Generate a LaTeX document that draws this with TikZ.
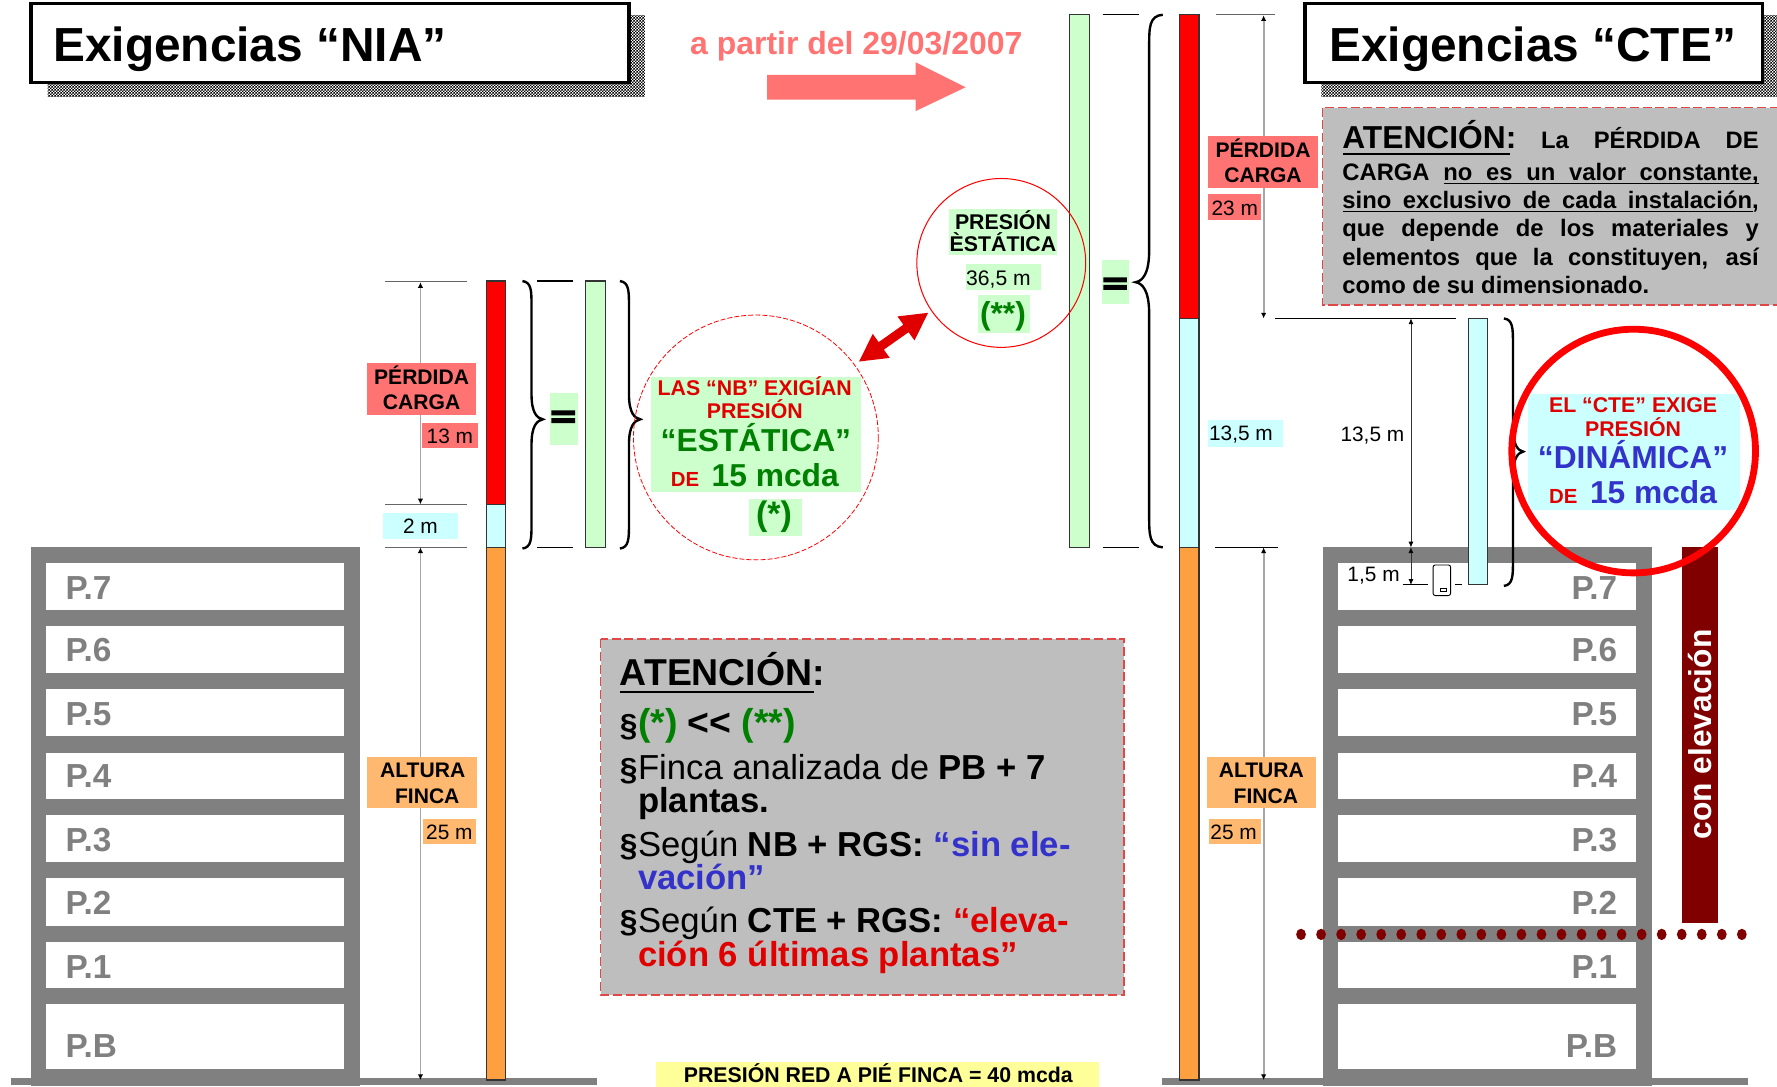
\documentclass[tikz,border=0pt]{standalone}
\usepackage{fontspec}
\usepackage{graphicx}
\setmainfont{Liberation Sans}
\newfontfamily\eqfont[FakeBold=9]{Liberation Sans}
\usetikzlibrary{arrows.meta,patterns}
\pgfdeclarepatternformonly{finechk}{\pgfqpoint{0pt}{0pt}}{\pgfqpoint{1.5pt}{1.5pt}}{\pgfqpoint{1.5pt}{1.5pt}}{%
  \pgfpathrectangle{\pgfqpoint{0pt}{0pt}}{\pgfqpoint{0.75pt}{0.75pt}}%
  \pgfpathrectangle{\pgfqpoint{0.75pt}{0.75pt}}{\pgfqpoint{0.75pt}{0.75pt}}%
  \pgfusepath{fill}}
\definecolor{cpink}{HTML}{FF7373}
\definecolor{ccyan}{HTML}{CCFFFF}
\definecolor{cgreen}{HTML}{CCFFCC}
\definecolor{corange}{HTML}{FFA040}
\definecolor{clabor}{HTML}{FFB870}
\definecolor{tred}{HTML}{E00000}
\definecolor{tgreen}{HTML}{008000}
\definecolor{tblue}{HTML}{3333CC}
\definecolor{cgrey}{HTML}{BEBEBE}
\definecolor{cdash}{HTML}{E04848}
\definecolor{cdark}{HTML}{800000}
\definecolor{cwall}{HTML}{808080}
\definecolor{cyell}{HTML}{FFFF99}
\newcommand\fz[1]{\fontsize{#1}{#1}\selectfont}
\newcommand\bb{\bfseries}
% brace: end x, middle x, tip x, top y, tip y, bottom y, bend
\newcommand\mybrace[7]{\draw[bracepen] (#1,#4) .. controls (#2,{#4+1}) and (#2,{#4+#7*0.4}) .. (#2,{#4+#7}) -- (#2,{#5-#7}) .. controls (#2,{#5-#7*0.25}) and ({(#2+#3)/2},{#5-1}) .. (#3,#5) .. controls ({(#2+#3)/2},{#5+1}) and (#2,{#5+#7*0.25}) .. (#2,{#5+#7}) -- (#2,{#6-#7}) .. controls (#2,{#6-#7*0.4}) and (#2,{#6-1}) .. (#1,#6);}
\tikzset{
  txt/.style={inner sep=0pt,outer sep=0pt,anchor=base west,text=black},
  ctr/.style={inner sep=0pt,outer sep=0pt,anchor=base,text=black},
  barseg/.style={draw=black!80,line width=0.5pt},
  dimline/.style={draw=black!60,line width=0.5pt},
  dimarrow/.style={draw=black!35,line width=0.8pt,{Latex[black,length=2.5pt,width=2.4pt]}-{Latex[black,length=2.5pt,width=2.4pt]}},
  thinarrow/.style={draw=black!80,line width=0.35pt,{Latex[black,length=2.5pt,width=2.2pt]}-{Latex[black,length=2.5pt,width=2.2pt]}},
  bracepen/.style={draw=black,line width=1.05pt},
  notebox/.style={fill=cgrey,draw=cdash,line width=0.7pt,dash pattern=on 4pt off 1.6pt},
  titlebox/.style={fill=white,draw=black,line width=1.5pt},
  shade/.style={pattern=finechk,pattern color=black},
  ul/.style={draw=black,line width=0.8pt},
  floorlab/.style={inner sep=0pt,outer sep=0pt,text=cwall,font=\fz{14.7}\bb}
}
\newcommand\eqsign{\scalebox{1}[0.75]{\eqfont\fz{18}=}}
\begin{document}
\begin{tikzpicture}[x=0.5pt,y=-0.5pt]
\useasboundingbox (0,0) rectangle (1568,959);
% title boxes
\fill[shade] (42,14) rectangle (569,85);
\fill[shade] (1166,14) rectangle (1568,85);
\draw[titlebox] (27.5,3) rectangle (555,73);
\draw[titlebox] (1151.5,3) rectangle (1555,73);
\node[txt,font=\fz{21.1}\bb] (tnia) at (47,54) {Exigencias “NIA”};
\node[txt,font=\fz{21.1}\bb] (tcte) at (1173,54) {Exigencias “CTE”};
% date
\node[txt,text=cpink,font=\fz{14.1}\bb] (date) at (609,48) {a partir del 29/03/2007};
\fill[cpink] (677,66) -- (808,66) -- (808,55) -- (852,77) -- (808,98) -- (808,88) -- (677,88) -- cycle;
% ground
\fill[cwall] (10,951) rectangle (527,957);
\fill[cwall] (1025,951) rectangle (1542,957);
% buildings
\foreach \bx/\rx in {27/41,1167/1181}{
  \fill[cwall] (\bx,483) rectangle ({\bx+291},958);
  \foreach \a/\b in {497/538,552/594,608/649,664/705,719/761,775/817,831/872,886/943}
    \fill[white] (\rx,\a) rectangle ({\rx+262.5},\b);
}
\foreach \n/\y in {7/529,6/584,5/640,4/695,3/751,2/807,1/863,B/933}{
  \node[floorlab,anchor=base west] (fl\n) at (58,\y) {P.\n};
  \node[floorlab,anchor=base east] (fr\n) at (1427,\y) {P.\n};
}
% dark red riser
\fill[cdark] (1484,483) rectangle (1516,814);
\node[inner sep=0pt,text=white,font=\fz{14}\bb,rotate=90] (conelev) at (1500,648) {con elevación};
% left bar
\filldraw[barseg,fill=red] (429,248) rectangle (446,445);
\filldraw[barseg,fill=ccyan] (429,445) rectangle (446,483);
\filldraw[barseg,fill=corange] (429,483) rectangle (446,953);
\draw[dimline] (340,248.5) -- (412,248.5);
\draw[dimline] (340,445) -- (412,445);
\draw[dimline] (340,483) -- (412,483);
\coordinate (la) at (371,249); \coordinate (lb) at (371,445);
\coordinate (lc) at (371,483); \coordinate (ld) at (371,953);
\draw[dimarrow] (la) -- (lb);
\draw[dimarrow] (lc) -- (ld);
\fill[cpink] (324,320) rectangle (420,366);
\node[ctr,font=\fz{9.3}\bb] (lp1) at (372,339) {PÉRDIDA};
\node[ctr,font=\fz{9.3}\bb] (lp2) at (372,361) {CARGA};
\fill[cpink] (372,373) rectangle (422,395);
\node[ctr,font=\fz{9.2}] (l13) at (397,391) {13 m};
\fill[ccyan] (338,453) rectangle (404,476);
\node[ctr,font=\fz{9.2}] (l2) at (371,471) {2 m};
\fill[clabor] (324,668) rectangle (421,713);
\node[ctr,font=\fz{9.3}\bb] (la1) at (373,686) {ALTURA};
\node[ctr,font=\fz{9.3}\bb] (la2) at (377,709) {FINCA};
\fill[clabor] (373,723) rectangle (420,745);
\node[ctr,font=\fz{9.2}] (l25) at (396.5,741) {25 m};
% left brace 1 and green bar
\mybrace{461}{469}{479}{248}{370}{484}{22}
\draw[dimline,draw=black] (474,248) -- (506,248);
\draw[dimline,draw=black] (474,483) -- (506,483);
\filldraw[barseg,fill=cgreen] (517,248) rectangle (534,483);
\fill[cgreen] (485,347) rectangle (510,393);
\node[inner sep=0pt] (eq1) at (497,370) {\eqsign};
\mybrace{547}{555}{565}{248}{370}{484}{22}
% static circle
\draw[red,line width=0.35pt,dash pattern=on 2.2pt off 0.9pt] (667,386) circle (108);
\fill[cgreen] (574,333) rectangle (760,434);
\node[ctr,text=tred,font=\fz{9.4}\bb] (s1) at (666,349) {LAS “NB” EXIGÍAN};
\node[ctr,text=tred,font=\fz{9.4}\bb] (s2) at (666,369) {PRESIÓN};
\node[ctr,text=tgreen,font=\fz{14}\bb] (s3) at (667,398) {“ESTÁTICA”};
\node[txt,text=tred,font=\fz{9}\bb] (s4) at (592,429) {DE};
\node[txt,text=tgreen,font=\fz{14}\bb] (s5) at (628,429) {15 mcda};
\fill[cgreen] (661,440) rectangle (708,473);
\node[ctr,text=tgreen,font=\fz{15}\bb] (s6) at (683,464) {(*)};
% double arrow
\fill[tred] (758,319) -- (770.1,294.6) -- (775.3,301.9) -- (797.1,286.5) -- (791.9,279.2) -- (819,276) -- (806.9,300.4) -- (801.7,293.1) -- (779.9,308.5) -- (785.1,315.8) -- cycle;
% middle green bar
\filldraw[barseg,fill=cgreen] (944,13) rectangle (961,483);
\draw[dimline,draw=black] (973,13) -- (1005,13);
\draw[dimline,draw=black] (973,483) -- (1005,483);
\fill[cgreen] (972.5,229) rectangle (996,268);
\node[inner sep=0pt] (eq2) at (984,252.5) {\eqsign};
\mybrace{1026}{1014}{1002}{13}{249}{483}{28}
% solid circle
\fill[cgreen] (837.5,184) rectangle (933,225);
\node[ctr,font=\fz{9.4}\bb] (e1) at (885,202.5) {PRESIÓN};
\node[ctr,font=\fz{9.4}\bb] (e2) at (885,221.5) {ÈSTÁTICA};
\fill[cgreen] (852.5,233) rectangle (918.5,256);
\node[ctr,font=\fz{9.3}] (e3) at (881,251.5) {36,5 m};
\fill[cgreen] (863,260) rectangle (909,294);
\node[ctr,text=tgreen,font=\fz{14}\bb] (e4) at (885,286) {(**)};
\draw[red,line width=0.45pt] (883.5,232) circle (74.5);
% right bar
\filldraw[barseg,fill=red] (1041,13) rectangle (1058,281);
\filldraw[barseg,fill=ccyan] (1041,281) rectangle (1058,483);
\filldraw[barseg,fill=corange] (1041,483) rectangle (1058,953);
\draw[dimline] (1073,13) -- (1125,13);
\draw[dimline,draw=black] (1125,281) -- (1285,281);
\draw[dimline,draw=black] (1072,483) -- (1128,483);
\coordinate (ra) at (1115,13.5); \coordinate (rb) at (1115,281);
\coordinate (rc) at (1115,483); \coordinate (rd) at (1115,953);
\draw[dimarrow] (ra) -- (rb);
\draw[dimarrow] (rc) -- (rd);
\fill[cpink] (1066,120) rectangle (1163,166);
\node[ctr,font=\fz{9.3}\bb] (rp1) at (1114.5,139) {PÉRDIDA};
\node[ctr,font=\fz{9.3}\bb] (rp2) at (1114.5,161) {CARGA};
\fill[cpink] (1066,171) rectangle (1113,194);
\node[ctr,font=\fz{9.2}] (r23) at (1089.5,190) {23 m};
\fill[ccyan] (1066,371) rectangle (1132,394);
\node[ctr,font=\fz{9.2}] (r135) at (1095,389) {13,5 m};
\fill[clabor] (1065,668) rectangle (1161,713);
\node[ctr,font=\fz{9.3}\bb] (ra1) at (1113,686) {ALTURA};
\node[ctr,font=\fz{9.3}\bb] (ra2) at (1117,709) {FINCA};
\fill[clabor] (1067,723) rectangle (1113,745);
\node[ctr,font=\fz{9.2}] (r25) at (1088.5,741) {25 m};
% right attention box
\draw[notebox] (1167,95) rectangle (1575,269);
\node[txt,font=\fz{10.5}\bb] (n1) at (1184.5,131) {\makebox[183.7pt][s]{{\fz{14}ATENCIÓN:} La PÉRDIDA DE}};
\node[txt,font=\fz{10.5}\bb] (n2) at (1184.5,159) {\makebox[183.7pt][s]{CARGA no es un valor constante,}};
\node[txt,font=\fz{10.5}\bb] (n3) at (1184.5,184) {\makebox[183.7pt][s]{sino exclusivo de cada instalación,}};
\node[txt,font=\fz{10.5}\bb] (n4) at (1184.5,209) {\makebox[183.7pt][s]{que depende de los materiales y}};
\node[txt,font=\fz{10.5}\bb] (n5) at (1184.5,234) {\makebox[183.7pt][s]{elementos que la constituyen, así}};
\node[txt,font=\fz{10.5}\bb] (n6) at (1184.5,259) {como de su dimensionado.};
\draw[ul] (1185,136) -- (1332,136);
\draw[ul,line width=0.6pt] (1274.5,162) -- (1552,162);
\draw[ul,line width=0.6pt] (1185,186.5) -- (1547,186.5);
% dynamic part
\coordinate (da) at (1245,281); \coordinate (db) at (1245,483); \coordinate (dc) at (1245,516);
\draw[thinarrow] (da) -- (db);
\draw[thinarrow] (db) -- (dc);
\node[ctr,font=\fz{9.2}] (d135) at (1211,390) {13,5 m};
\node[ctr,font=\fz{9.2}] (d15) at (1212,513) {1,5 m};
\draw[draw=black,line width=0.4pt] (1238,516) -- (1260,516);
\draw[draw=black,line width=0.4pt] (1284,516) -- (1290,516);
\filldraw[fill=white,draw=black,line width=0.4pt,rounded corners=1pt] (1264.5,498.5) rectangle (1280,525.5);
\draw[black,line width=0.3pt] (1270.5,519) rectangle (1276,522);
\filldraw[barseg,fill=ccyan] (1295.5,281) rectangle (1312.5,516);
\mybrace{1327}{1335}{1344}{281}{398.5}{517}{22}
\fill[ccyan] (1348.5,348) rectangle (1535,450);
\node[ctr,text=tred,font=\fz{9.4}\bb] (c1) at (1441,364) {EL “CTE” EXIGE};
\node[ctr,text=tred,font=\fz{9.4}\bb] (c2) at (1441,385) {PRESIÓN};
\node[ctr,text=tblue,font=\fz{14}\bb] (c3) at (1441,413) {“DINÁMICA”};
\node[txt,text=tred,font=\fz{9}\bb] (c4) at (1367,444) {DE};
\node[txt,text=tblue,font=\fz{14}\bb] (c5) at (1403,444) {15 mcda};
\draw[red,line width=3pt] (1441.5,398) circle (107.5);
% dots
\foreach \i in {0,...,22}
  \fill[cdark] ({1148+17.68*\i},824.5) ellipse (4.3 and 5);
% middle attention box
\draw[notebox] (530,564) rectangle (992,878);
\node[txt,font=\fz{16.5}\bb] (m0) at (547,605) {ATENCIÓN:};
\draw[ul,line width=1.2pt] (547,610.5) -- (718,610.5);
\foreach \y/\nm in {650/a,689/b,756/c,823/d}
  \node[txt,font=\fz{14}\bb] (mb\nm) at (547,\y) {§};
\node[txt,font=\fz{16.5}\bb] (m1) at (563,649) {\textcolor{tgreen}{(*)} <{}< \textcolor{tgreen}{(**)}};
\node[txt,font=\fz{15.3}] (m2) at (563,688) {Finca analizada de \textbf{PB + 7}};
\node[txt,font=\fz{15.3}\bb] (m3) at (563,717) {plantas.};
\node[txt,font=\fz{15.3}] (m4) at (563,756) {Según \textbf{NB + RGS: \textcolor{tblue}{“sin ele-}}};
\node[txt,text=tblue,font=\fz{15.3}\bb] (m5) at (563,785) {vación”};
\node[txt,font=\fz{15.3}] (m6) at (563,823) {Según \textbf{CTE + RGS: \textcolor{tred}{“eleva-}}};
\node[txt,text=tred,font=\fz{15.3}\bb] (m7) at (563,853) {ción 6 últimas plantas”};
% bottom label
\fill[cyell] (579,937) rectangle (970,959);
\node[ctr,font=\fz{9.4}\bb] (red) at (775,955.5) {PRESIÓN RED A PIÉ FINCA = 40 mcda};
\end{tikzpicture}
\end{document}
